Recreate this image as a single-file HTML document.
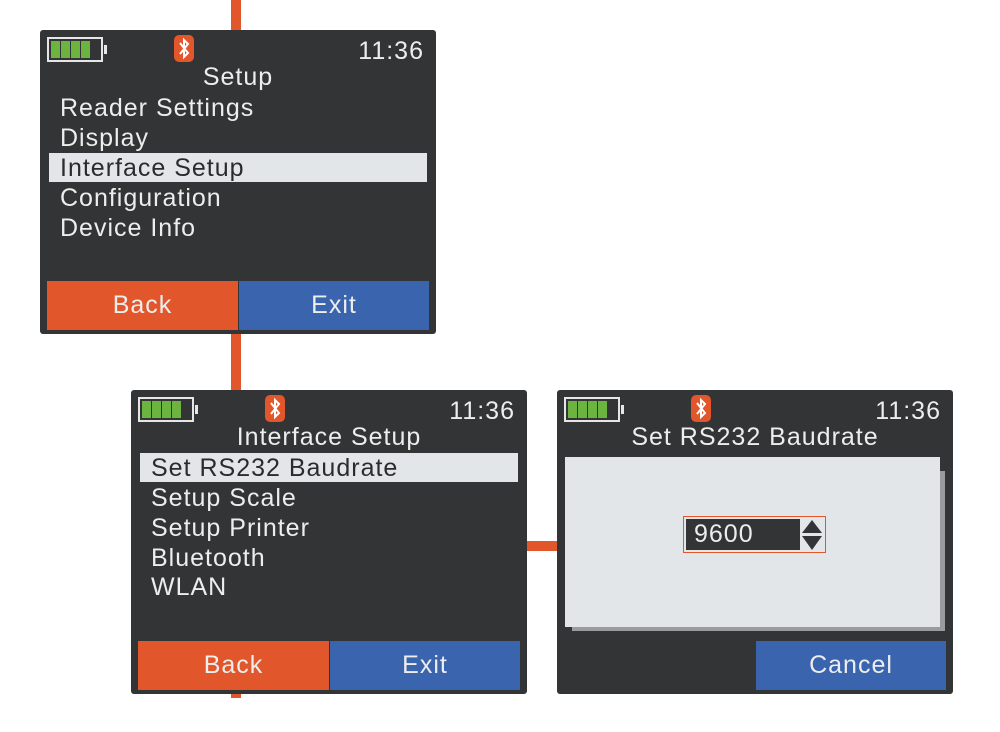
<!DOCTYPE html>
<html><head><meta charset="utf-8"><style>
body{margin:0;width:1000px;height:732px;background:#fff;position:relative;overflow:hidden;font-family:"Liberation Sans",sans-serif}
.ln{position:absolute;background:#e2562b}
.scr{position:absolute;width:396px;height:304px;background:#333435;border-radius:3px;color:#eceeee}
.scr div{position:absolute}
.bat{left:7px;top:7px;width:52px;height:21px;border:2px solid #e6e6e6;box-sizing:content-box}
.bat i{position:absolute;top:2px;width:9px;height:17px;background:#6db33f}
.bat:after{content:"";position:absolute;right:-6px;top:6px;width:3px;height:9px;background:#e6e6e6}
.bt{left:134px;top:5px;width:20px;height:27px;background:#e2562b;border-radius:5px}
.tm{right:12px;top:7px;font-size:25px;letter-spacing:1px}
.tt{left:0;width:396px;text-align:center;top:33px;font-size:25px;letter-spacing:1px}
.it{left:20px;font-size:25px;letter-spacing:1px;line-height:30px}
.hl{left:9px;width:378px;top:123px;height:29px;background:#e3e6e8}
.b{top:251px;height:49px;font-size:25px;letter-spacing:1px;text-align:center;line-height:49px}
.bk{left:7px;width:191px;background:#e2562b}
.ex{left:199px;width:190px;background:#3a64ad}
</style></head><body>
<div class="ln" style="left:231px;top:0;width:10px;height:32px"></div>
<div class="ln" style="left:231px;top:332px;width:10px;height:60px"></div>
<div class="ln" style="left:231px;top:692px;width:10px;height:6px"></div>
<div class="ln" style="left:525px;top:541px;width:34px;height:10px"></div>

<div class="scr" style="left:40px;top:30px">
<div class="bat"><i style="left:2px"></i><i style="left:12px"></i><i style="left:22px"></i><i style="left:32px"></i></div>
<div class="bt"><svg width="20" height="27" viewBox="0 0 20 27"><path d="M6 8l8 10-4 4V5l4 4-8 10" fill="none" stroke="#fff" stroke-width="2"/></svg></div>
<div class="tm">11:36</div>
<div class="tt">Setup</div>
<div class="hl"></div>
<div class="it" style="top:63px">Reader Settings</div>
<div class="it" style="top:93px">Display</div>
<div class="it" style="top:123px;color:#2b2b2b">Interface Setup</div>
<div class="it" style="top:153px">Configuration</div>
<div class="it" style="top:183px">Device Info</div>
<div class="b bk">Back</div><div class="b ex">Exit</div>
</div>

<div class="scr" style="left:131px;top:390px">
<div class="bat"><i style="left:2px"></i><i style="left:12px"></i><i style="left:22px"></i><i style="left:32px"></i></div>
<div class="bt"><svg width="20" height="27" viewBox="0 0 20 27"><path d="M6 8l8 10-4 4V5l4 4-8 10" fill="none" stroke="#fff" stroke-width="2"/></svg></div>
<div class="tm">11:36</div>
<div class="tt">Interface Setup</div>
<div class="hl" style="top:63px"></div>
<div class="it" style="top:63px;color:#2b2b2b">Set RS232 Baudrate</div>
<div class="it" style="top:93px">Setup Scale</div>
<div class="it" style="top:123px">Setup Printer</div>
<div class="it" style="top:153px">Bluetooth</div>
<div class="it" style="top:182px">WLAN</div>
<div class="b bk">Back</div><div class="b ex">Exit</div>
</div>

<div class="scr" style="left:557px;top:390px">
<div class="bat"><i style="left:2px"></i><i style="left:12px"></i><i style="left:22px"></i><i style="left:32px"></i></div>
<div class="bt"><svg width="20" height="27" viewBox="0 0 20 27"><path d="M6 8l8 10-4 4V5l4 4-8 10" fill="none" stroke="#fff" stroke-width="2"/></svg></div>
<div class="tm">11:36</div>
<div class="tt">Set RS232 Baudrate</div>
<div style="left:15px;top:81px;width:373px;height:160px;background:#9a9b9c"></div>
<div style="left:8px;top:67px;width:375px;height:170px;background:#e3e6e8"></div>
<div style="left:126px;top:126px;width:141px;height:35px;border:1px solid #e2562b;background:#e3e6e8"></div>
<div style="left:129px;top:129px;width:114px;height:31px;background:#333435;font-size:25px;line-height:31px;text-indent:8px;letter-spacing:1px">9600</div>
<div style="left:245px;top:130px"><svg width="20" height="30" viewBox="0 0 20 30"><path d="M10 0L20 13H0Z M0 16H20L10 30Z" fill="#333435"/></svg></div>
<div class="b" style="left:199px;width:190px;background:#3a64ad">Cancel</div>
</div>
</body></html>
